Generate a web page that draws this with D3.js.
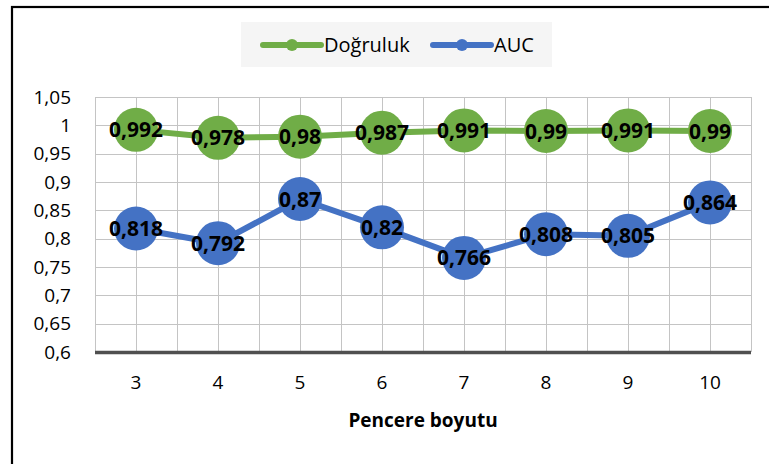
<!DOCTYPE html>
<html>
<head>
<meta charset="utf-8">
<script src="https://cdn.jsdelivr.net/npm/d3@7"></script>
<style>
  html, body { margin: 0; padding: 0; background: #ffffff; }
  svg { display: block; }
  text { font-family: "Open Sans", "Noto Sans", sans-serif; }
</style>
</head>
<body>
<svg id="chart" width="769" height="464"></svg>
<script>
// Window sizes (x axis) and the two metrics per window size
const categories = ["3", "4", "5", "6", "7", "8", "9", "10"];
const dogruluk = [0.992, 0.978, 0.98, 0.987, 0.991, 0.99, 0.991, 0.99];
const auc = [0.818, 0.792, 0.87, 0.82, 0.766, 0.808, 0.805, 0.864];
const yTicks = [0.6, 0.65, 0.7, 0.75, 0.8, 0.85, 0.9, 0.95, 1, 1.05];
const seriesNames = ["Doğruluk", "AUC"];
const xTitle = "Pencere boyutu";

const colors = { "Doğruluk": "#70ad47", "AUC": "#4472c4" };

const svg = d3.select("#chart");
const W = 769, H = 464;
const plot = { left: 95, right: 751, top: 97, bottom: 352 };

// Turkish-style decimal comma
const tr = d3.formatLocale({ decimal: ",", thousands: ".", grouping: [3], currency: ["", "₺"] });
const fmtTick = tr.format(".2~f");
const fmtVal = tr.format(".3~f");

const x = d3.scaleBand().domain(categories).range([plot.left, plot.right]).paddingInner(0).paddingOuter(0);
const y = d3.scaleLinear().domain([0.6, 1.05]).range([plot.bottom, plot.top]);
const cx = c => x(c) + x.bandwidth() / 2;

// Chart frame (left and top edges)
svg.append("rect")
  .attr("x", 12).attr("y", 7)
  .attr("width", W + 20).attr("height", H + 20)
  .attr("fill", "none").attr("stroke", "#000").attr("stroke-width", 2.2);

// Legend
const lg = svg.append("g");
lg.append("rect").attr("x", 241).attr("y", 22).attr("width", 311).attr("height", 45).attr("fill", "#f5f5f5");
const legendItems = [
  { name: seriesNames[0], x0: 263 },
  { name: seriesNames[1], x0: 433 }
];
legendItems.forEach(it => {
  lg.append("line")
    .attr("x1", it.x0).attr("x2", it.x0 + 58).attr("y1", 45).attr("y2", 45)
    .attr("stroke", colors[it.name]).attr("stroke-width", 6).attr("stroke-linecap", "round");
  lg.append("circle").attr("cx", it.x0 + 29).attr("cy", 45).attr("r", 6).attr("fill", colors[it.name]);
  lg.append("text")
    .attr("x", it.x0 + 61).attr("y", 45).attr("dy", "0.36em")
    .attr("font-size", 20).attr("fill", "#000")
    .text(it.name);
});

// Gridlines
const grid = svg.append("g").attr("stroke", "#c4c4c4").attr("stroke-width", 1);
yTicks.forEach(t => {
  grid.append("line").attr("x1", plot.left).attr("x2", plot.right)
    .attr("y1", Math.round(y(t)) + 0.5).attr("y2", Math.round(y(t)) + 0.5);
});
const vlines = categories.map(c => x(c)).concat([plot.right]).concat(categories.map(cx));
vlines.forEach(v => {
  grid.append("line").attr("x1", Math.round(v) + 0.5).attr("x2", Math.round(v) + 0.5)
    .attr("y1", plot.top).attr("y2", plot.bottom);
});

// Y axis labels
const yAxis = d3.axisLeft(y).tickValues(yTicks).tickFormat(fmtTick).tickSize(0).tickPadding(0);
const gy = svg.append("g").attr("transform", `translate(71,0)`).call(yAxis);
gy.select(".domain").remove();
gy.selectAll("text").attr("font-size", 19).attr("fill", "#000").attr("font-family", "Open Sans");

// X axis labels
const xAxis = d3.axisBottom(x).tickSize(0).tickPadding(0);
const gx = svg.append("g").attr("transform", `translate(0,375)`).call(xAxis);
gx.select(".domain").remove();
gx.selectAll("text").attr("font-size", 19).attr("fill", "#000").attr("font-family", "Open Sans").attr("dy", "0.71em");

// Category axis line
svg.append("line")
  .attr("x1", plot.left).attr("x2", plot.right).attr("y1", plot.bottom + 0.5).attr("y2", plot.bottom + 0.5)
  .attr("stroke", "#505050").attr("stroke-width", 3.5);

// X axis title
svg.append("text")
  .attr("x", (plot.left + plot.right) / 2).attr("y", 427)
  .attr("text-anchor", "middle").attr("font-size", 19).attr("font-weight", "bold").attr("fill", "#000")
  .text(xTitle);

// Series lines, markers, value labels
const series = [
  { name: seriesNames[0], values: dogruluk },
  { name: seriesNames[1], values: auc }
];
const line = d3.line().x((d, i) => cx(categories[i])).y(d => y(d));

series.forEach(s => {
  svg.append("path").datum(s.values)
    .attr("d", line).attr("fill", "none")
    .attr("stroke", colors[s.name]).attr("stroke-width", 6).attr("stroke-linejoin", "round");
});
series.forEach(s => {
  svg.append("g").selectAll("circle").data(s.values).join("circle")
    .attr("cx", (d, i) => cx(categories[i])).attr("cy", d => y(d)).attr("r", 22)
    .attr("fill", colors[s.name]);
});
series.forEach(s => {
  svg.append("g").selectAll("text").data(s.values).join("text")
    .attr("x", (d, i) => cx(categories[i])).attr("y", d => y(d)).attr("dy", "0.36em")
    .attr("text-anchor", "middle").attr("font-size", 21).attr("font-weight", "bold").attr("fill", "#000")
    .text(d => fmtVal(d));
});
</script>
</body>
</html>
